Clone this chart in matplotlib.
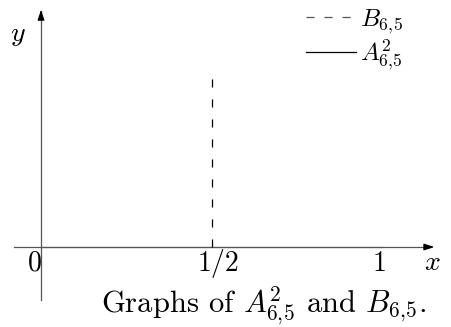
import matplotlib
matplotlib.use("Agg")
import matplotlib.pyplot as plt
from matplotlib.lines import Line2D

plt.rcParams["font.family"] = "serif"
plt.rcParams["font.serif"] = ["cmr10", "DejaVu Serif"]
plt.rcParams["mathtext.fontset"] = "cm"
plt.rcParams["lines.scale_dashes"] = False

# data
b_x = [0.5, 0.5]
b_y = [0.0, 1.0]
a_x = [0.0, 1.0]
a_y = [0.0, 0.0]
tick_pos = [0.0, 0.5, 1.0]
tick_labels = ["0", "1/2", "1"]

fig = plt.figure(figsize=(4.51, 3.27), dpi=100)
ax = fig.add_axes([0, 0, 1, 1])
ax.set_xlim(-0.1199, 1.1988)
ax.set_ylim(-0.465, 1.436)
ax.axis("off")

axis_col = "#555555"
# axes with arrows
ax.plot([-0.079, 1.14], [0, 0], color=axis_col, lw=0.9, zorder=1)
ax.plot([0, 0], [-0.308, 1.37], color=axis_col, lw=0.9, zorder=1)
ax.annotate("", xy=(1.158, 0), xytext=(1.12, 0),
            arrowprops=dict(arrowstyle="-|>,head_length=0.6,head_width=0.2",
                            color="black", lw=0.9))
ax.annotate("", xy=(0, 1.395), xytext=(0, 1.33),
            arrowprops=dict(arrowstyle="-|>,head_length=0.6,head_width=0.2",
                            color="black", lw=0.9))

# curves
ax.plot(a_x, a_y, color="black", lw=0.8, zorder=0)
ax.plot(b_x, b_y, color="black", lw=0.9, dashes=(5.8, 8.6))

for p, s, dx in zip(tick_pos, tick_labels, [-0.018, 0.018, -0.01]):
    ax.text(p + dx, -0.097, s, ha="center", va="center", fontsize=20)
ax.text(1.145, -0.09, "$x$", ha="center", va="center", fontsize=20)
ax.text(-0.067, 1.235, "$y$", ha="center", va="center", fontsize=20)

# legend
handles = [Line2D([], [], color="#555555", lw=0.9, dashes=(5.8, 7.2)),
           Line2D([], [], color="black", lw=0.9)]
ax.legend(handles, [r"$B_{6,\!5}$", r"$A^2_{6,\!5}$"], loc="upper left",
          bbox_to_anchor=(0.634, 1.04), frameon=False, fontsize=18,
          handlelength=2.0, handletextpad=0.15, labelspacing=0.05,
          borderpad=0.3)

fig.text(0.585, 0.043, r"Graphs of $A^2_{6,\!5}$ and $B_{6,\!5}$.",
         ha="center", va="baseline", fontsize=22)

fig.savefig("out.png", dpi=100)
